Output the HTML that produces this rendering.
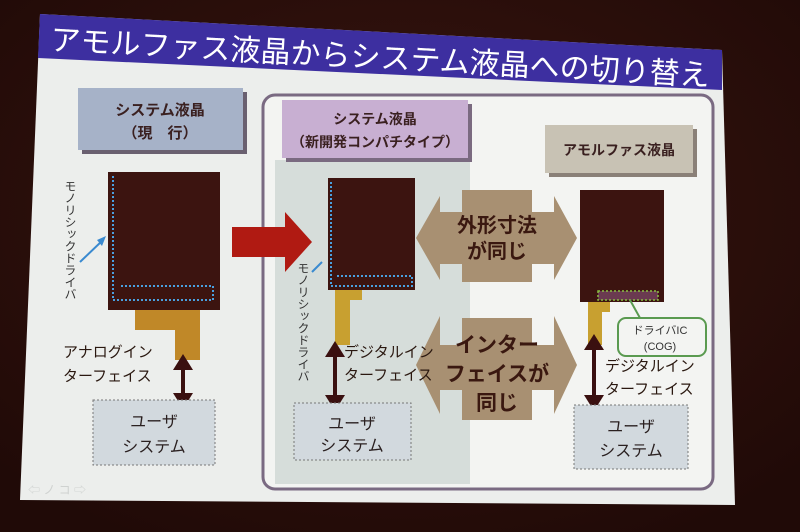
<!DOCTYPE html>
<html><head><meta charset="utf-8"><style>
html,body{margin:0;padding:0;background:#2b0f0b;width:800px;height:532px;overflow:hidden}
svg{display:block}
text{font-family:"Liberation Sans","Noto Sans CJK JP",sans-serif}
</style></head><body>
<svg width="800" height="532" viewBox="0 0 800 532">
<defs><radialGradient id="bg" cx="50%" cy="40%" r="70%"><stop offset="0" stop-color="#3a1510"/><stop offset="1" stop-color="#200a07"/></radialGradient></defs>
<rect width="800" height="532" fill="url(#bg)"/>
<polygon points="40,14 722,50 735,505 20,500" fill="#eceeec"/>
<polygon points="40,14 722,50 722,90 38,58" fill="#3d2fa0"/>
<text x="50" y="50" font-size="30" fill="#fff" transform="rotate(3.1 50 50)" textLength="660">アモルファス液晶からシステム液晶への切り替え</text>
<rect x="263" y="95" width="450" height="394" rx="12" fill="#f3f4f2" stroke="#7a6a82" stroke-width="3"/>
<rect x="275" y="160" width="195" height="324" fill="#d6ddda"/>
<rect x="82" y="92" width="165" height="62" fill="#6a6070"/>
<rect x="78" y="88" width="165" height="62" fill="#a6b2c8"/>
<text x="160" y="115" font-size="15" font-weight="bold" fill="#3a2020" text-anchor="middle">システム液晶</text>
<text x="160" y="138" font-size="15" font-weight="bold" fill="#3a2020" text-anchor="middle">（現　行）</text>
<rect x="286" y="104" width="186" height="58" fill="#7a6a80"/>
<rect x="282" y="100" width="186" height="58" fill="#c8afd2"/>
<text x="375" y="124" font-size="14" font-weight="bold" fill="#3a2020" text-anchor="middle">システム液晶</text>
<text x="375" y="147" font-size="14" font-weight="bold" fill="#3a2020" text-anchor="middle">（新開発コンパチタイプ）</text>
<rect x="549" y="129" width="148" height="48" fill="#8a8078"/>
<rect x="545" y="125" width="148" height="48" fill="#c8c2b4"/>
<text x="619" y="155" font-size="14" font-weight="bold" fill="#3a2020" text-anchor="middle">アモルファス液晶</text>
<rect x="108" y="172" width="112" height="138" fill="#3c1410"/>
<path d="M113,176 V300 H213 V286 H120" fill="none" stroke="#4aa0e0" stroke-width="2" stroke-dasharray="2,2"/>
<path d="M135,310 H200 V360 H175 V330 H135 Z" fill="#c08828"/>
<rect x="328" y="178" width="87" height="112" fill="#3c1410"/>
<path d="M331,182 V286 H412 V276 H336" fill="none" stroke="#4aa0e0" stroke-width="2" stroke-dasharray="2,2"/>
<path d="M335,290 H362 V300 H350 V345 H335 Z" fill="#c8a030"/>
<rect x="580" y="190" width="84" height="112" fill="#3c1410"/>
<rect x="598" y="291" width="60" height="9" fill="#6a3a50" stroke="#8ac040" stroke-width="1.5" stroke-dasharray="2,2"/>
<path d="M588,302 H610 V312 H602 V345 H588 Z" fill="#c8a030"/>
<polygon points="232,227 285,227 285,212 312,242 285,272 285,257 232,257" fill="#b01a12"/>
<polygon points="416,238 440,196 440,212 462,212 462,190 532,190 532,212 554,212 554,196 577,238 554,280 554,264 532,264 532,282 462,282 462,264 440,264 440,280" fill="#a89072"/>
<text x="497" y="232" font-size="20" font-weight="bold" fill="#3a1810" text-anchor="middle">外形寸法</text>
<text x="497" y="258" font-size="20" font-weight="bold" fill="#3a1810" text-anchor="middle">が同じ</text>
<polygon points="416,365 440,316 440,345 462,345 462,318 532,318 532,345 554,345 554,316 577,365 554,414 554,390 532,390 532,420 462,420 462,390 440,390 440,414" fill="#a89072"/>
<text x="497" y="352" font-size="21" font-weight="bold" fill="#3a1810" text-anchor="middle">インター</text>
<text x="497" y="381" font-size="21" font-weight="bold" fill="#3a1810" text-anchor="middle">フェイスが</text>
<text x="497" y="410" font-size="21" font-weight="bold" fill="#3a1810" text-anchor="middle">同じ</text>
<g stroke="#3a1010" stroke-width="4">
<line x1="183" y1="365" x2="183" y2="398"/><line x1="335" y1="352" x2="335" y2="400"/><line x1="594" y1="345" x2="594" y2="400"/>
</g>
<g fill="#3a1010">
<polygon points="173,370 183,354 193,370"/><polygon points="173,393 183,409 193,393"/>
<polygon points="325,357 335,341 345,357"/><polygon points="325,395 335,411 345,395"/>
<polygon points="584,350 594,334 604,350"/><polygon points="584,395 594,411 604,395"/>
</g>
<g font-size="15" fill="#2a1810">
<text x="63" y="357">アナログイン</text><text x="63" y="381">ターフェイス</text>
<text x="344" y="357">デジタルイン</text><text x="344" y="380">ターフェイス</text>
<text x="605" y="371">デジタルイン</text><text x="605" y="394">ターフェイス</text>
</g>
<rect x="618" y="318" width="88" height="38" rx="8" fill="#f3f4f2" stroke="#5a9a50" stroke-width="2"/>
<line x1="630" y1="300" x2="640" y2="318" stroke="#5a9a50" stroke-width="2"/>
<text x="660" y="334" font-size="11" fill="#333" text-anchor="middle">ドライバIC</text>
<text x="660" y="350" font-size="11" fill="#333" text-anchor="middle">(COG)</text>
<text font-size="12" fill="#333" x="70" y="180" style="writing-mode:vertical-rl">モノリシックドライバ</text>
<text font-size="12" fill="#333" x="303" y="262" style="writing-mode:vertical-rl">モノリシックドライバ</text>
<line x1="80" y1="262" x2="103" y2="240" stroke="#3a8ad0" stroke-width="2"/>
<polygon points="106,236 97,240 102,246" fill="#3a8ad0"/>
<line x1="312" y1="272" x2="322" y2="262" stroke="#3a8ad0" stroke-width="2"/>
<g fill="#d2d9de" stroke="#777" stroke-width="1" stroke-dasharray="2,2">
<rect x="93" y="400" width="122" height="65"/><rect x="294" y="403" width="117" height="57"/><rect x="574" y="405" width="114" height="64"/>
</g>
<g font-size="16" fill="#2a2020" text-anchor="middle">
<text x="154" y="427">ユーザ</text><text x="154" y="452">システム</text>
<text x="352" y="429">ユーザ</text><text x="352" y="451">システム</text>
<text x="631" y="432">ユーザ</text><text x="631" y="456">システム</text>
</g>
<text x="28" y="494" font-size="12" fill="#cfd2d0">⇦ ノ コ ⇨</text>
</svg>
</body></html>
